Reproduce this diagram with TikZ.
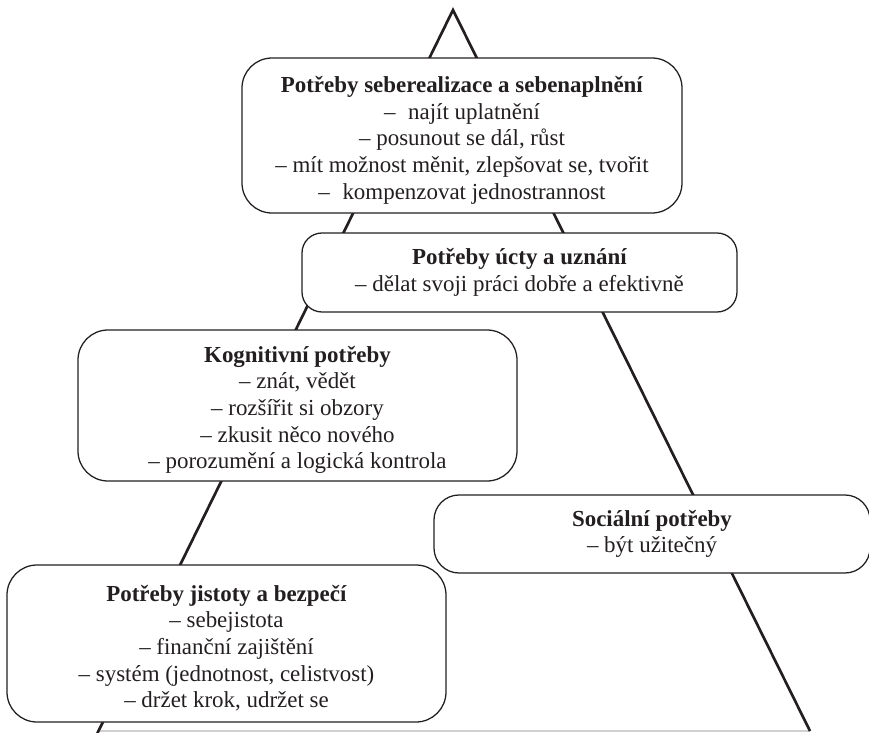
\documentclass[tikz,border=0pt]{standalone}
\usepackage{fontspec}
\setmainfont{Liberation Serif}
\definecolor{ink}{HTML}{231F20}
\definecolor{baseg}{HTML}{D0D0D0}
\newcommand{\topstrut}{\rule{0pt}{1.1em}}
\begin{document}
\begin{tikzpicture}[x=0.75pt,y=-0.75pt,
  need/.style={draw=ink, fill=white, line width=0.95pt, rounded corners=#1,
    inner sep=0pt, align=center, text=ink,
    font=\fontsize{17.2}{20}\selectfont},
  side/.style={draw=ink, line width=2pt}]
\useasboundingbox (0,0) rectangle (869,733);
\coordinate (apex) at (453,10);
\coordinate (bl) at (97,734);
\coordinate (br) at (810,731);
\coordinate (bb) at (100,731);
\draw[baseg, line width=0.8pt] (bb) -- (br);
\draw[side] (bl) -- (apex) -- (br);

\node[need=22.5pt, minimum width=330pt, minimum height=116.25pt] (self) at (462,135.5)
  {\topstrut\textbf{Potřeby seberealizace a sebenaplnění}\\
   –\hspace{0.55em}najít uplatnění\\
   – posunout se dál, růst\\
   – mít možnost měnit, zlepšovat se, tvořit\\
   –\hspace{0.55em}kompenzovat jednostrannost};

\node[need=15pt, minimum width=326.25pt, minimum height=59.25pt] (esteem) at (519.5,272.5)
  {\textbf{Potřeby úcty a uznání}\\
   – dělat svoji práci dobře a efektivně};

\node[need=22.5pt, minimum width=329.25pt, minimum height=113.25pt] (cogn) at (297.5,405.5)
  {\topstrut\textbf{Kognitivní potřeby}\\
   – znát, vědět\\
   – rozšířit si obzory\\
   – zkusit něco nového\\
   – porozumění a logická kontrola};

\node[need=18.75pt, minimum width=327pt, minimum height=58.5pt] (social) at (652,534)
  {\textbf{Sociální potřeby}\\
   – být užitečný};

\node[need=22.5pt, minimum width=329.25pt, minimum height=117.75pt] (safety) at (226.5,643.5)
  {\topstrut\textbf{Potřeby jistoty a bezpečí}\\
   – sebejistota\\
   – finanční zajištění\\
   – systém (jednotnost, celistvost)\\
   – držet krok, udržet se};
\end{tikzpicture}
\end{document}
